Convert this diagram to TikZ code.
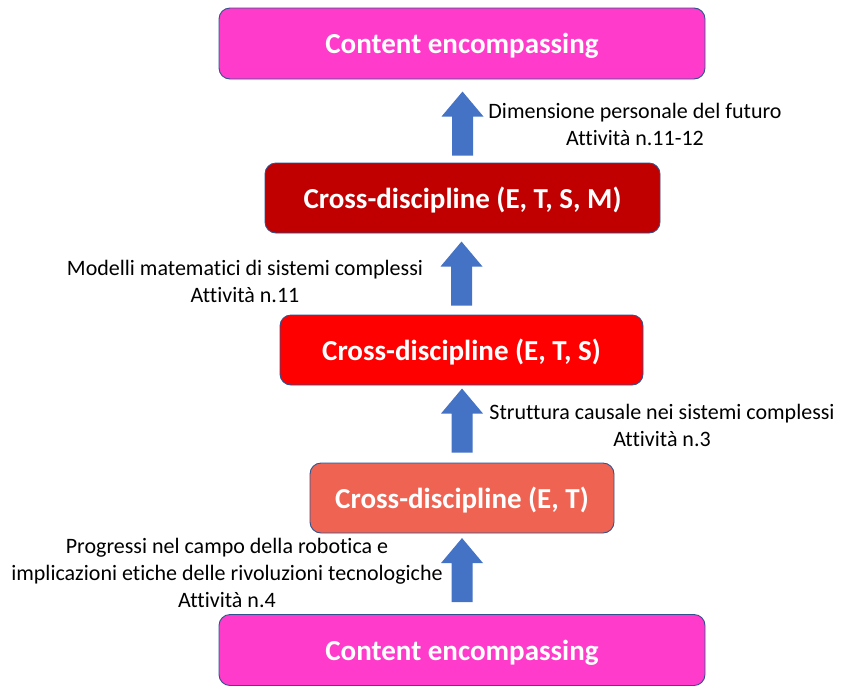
\documentclass[tikz,border=0pt]{standalone}
\usepackage{fontspec}
\setmainfont[Ligatures=CommonOff]{Carlito}
\usetikzlibrary{calc}

\definecolor{pinkbox}{HTML}{FF3BCB}
\definecolor{darkred}{HTML}{C00000}
\definecolor{brightred}{HTML}{FF0000}
\definecolor{salmon}{HTML}{EE6352}
\definecolor{arrowblue}{HTML}{4472C4}
\definecolor{edgeblue}{HTML}{2F528F}

\tikzset{
  stage/.style={draw=edgeblue, line width=0.9pt, rounded corners=11pt,
    text=white, inner sep=0pt, text height=22pt, text depth=2pt,
    font=\fontsize{29}{34}\selectfont\bfseries},
  note/.style={align=center, font=\fontsize{22}{27}\selectfont,
    inner sep=0pt, text=black},
  pics/uparrow/.style={code={
    \fill[arrowblue] (-10.5,0) -- (-10.5,-39) -- (-21,-39) -- (0,-64)
      -- (21,-39) -- (10.5,-39) -- (10.5,0) -- cycle;}}
}

\begin{document}
\begin{tikzpicture}[x=1pt,y=-1pt]
  \useasboundingbox (0,0) rectangle (842,686);

  % stages, top to bottom
  \node[stage, fill=pinkbox, minimum width=486pt, minimum height=71pt]
    (topbox) at (462,43.5) {Content encompassing};
  \node[stage, fill=darkred, minimum width=395pt, minimum height=70pt]
    (etsm) at (462.5,198) {Cross-discipline (E, T, S, M)};
  \node[stage, fill=brightred, minimum width=363pt, minimum height=70pt]
    (ets) at (461.5,350) {Cross-discipline (E, T, S)};
  \node[stage, fill=salmon, minimum width=304pt, minimum height=70pt]
    (et) at (462,498) {Cross-discipline (E, T)};
  \node[stage, fill=pinkbox, minimum width=486pt, minimum height=71pt]
    (bottombox) at (462,650) {Content encompassing};

  % block arrows between the stages
  \pic at ($(etsm.north)+(0,-7)$) {uparrow};
  \pic at ($(ets.north)+(0,-9)$) {uparrow};
  \pic at ($(et.north)+(0,-10)$) {uparrow};
  \pic at ($(bottombox.north)+(0,-12)$) {uparrow};

  % activity notes beside the arrows (anchored on the last line)
  \node[note, anchor=base] (n1) at (635,145)
    {Dimensione personale del futuro\\Attività n.11-12};
  \node[note, anchor=base] (n2) at (245,302)
    {Modelli matematici di sistemi complessi\\Attività n.11};
  \node[note, anchor=base] (n3) at (662,446)
    {Struttura causale nei sistemi complessi\\Attività n.3};
  \node[note, anchor=base] (n4) at (227,607)
    {Progressi nel campo della robotica e\\implicazioni etiche delle rivoluzioni tecnologiche\\Attività n.4};
\end{tikzpicture}
\end{document}
